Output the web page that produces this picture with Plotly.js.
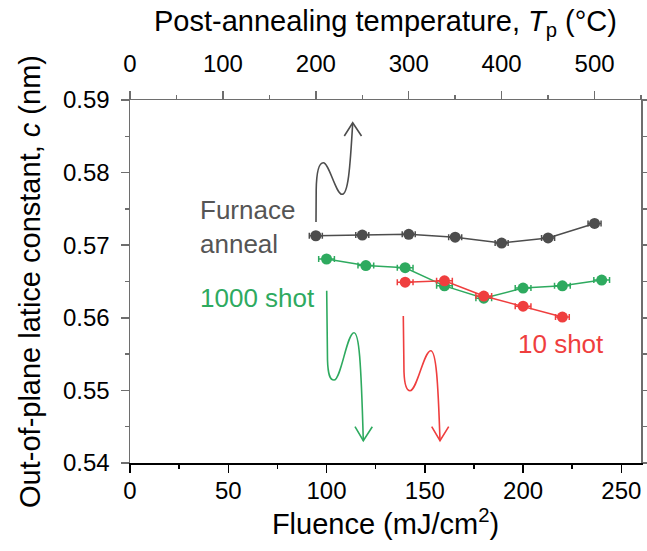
<!DOCTYPE html>
<html>
<head>
<meta charset="utf-8">
<script src="https://cdn.plot.ly/plotly-3.0.1.min.js"></script>
<style>html,body{margin:0;padding:0;background:#fff;}#chart{width:647px;height:551px;}</style>
</head>
<body>
<div id="chart"></div>
<script>
// ---- data ----
const furnaceTemp = [200, 250, 300, 350, 400, 450, 500];
const furnaceC    = [0.5713, 0.5714, 0.5715, 0.5711, 0.5703, 0.5710, 0.5730];
const furnaceErr  = [7, 7, 7, 7, 7, 7, 7];

const shot1000Fluence = [100, 120, 140, 160, 180, 200, 220, 240];
const shot1000C       = [0.5681, 0.5672, 0.5669, 0.5644, 0.5627, 0.5641, 0.5644, 0.5652];
const shot1000Err     = [4, 4, 4, 4, 4, 4, 4, 4];

const shot10Fluence = [140, 160, 180, 200, 220];
const shot10C       = [0.5649, 0.5651, 0.5630, 0.5616, 0.5601];
const shot10Err     = [4, 4, 4, 4, 3.5];

const xTickVals = [0, 50, 100, 150, 200, 250];
const x2TickVals = [0, 100, 200, 300, 400, 500];
const yTickVals = [0.54, 0.55, 0.56, 0.57, 0.58, 0.59];

// ---- style ----
const GREY = '#4d4d4d', GREEN = '#2eaa5f', RED = '#ef3e3e', AX = '#6e6e6e';
const FONT = 'Liberation Sans, Arial, sans-serif';

// plot-area geometry (for decorative arrows only)
const L = 130, R = 6, T = 100, B = 88, W = 647, H = 551;
const pw = W - L - R, ph = H - T - B;
const XR = [0, 260], YR = [0.54, 0.59];
function dx(px){ return XR[0] + (px - L) / pw * (XR[1] - XR[0]); }
function dy(py){ return YR[1] - (py - T) / ph * (YR[1] - YR[0]); }
function pathOf(segs){
  return segs.map(s => {
    const c = s[0], n = s.slice(1), out = [];
    for (let i = 0; i < n.length; i += 2) out.push(dx(n[i]).toFixed(3) + ',' + dy(n[i+1]).toFixed(5));
    return c + out.join(' ');
  }).join(' ');
}
function squiggle(segs, color){
  return {type:'path', xref:'x', yref:'y', path: pathOf(segs), line:{color:color, width:1.6}};
}

const traces = [
  {x: furnaceTemp, y: furnaceC, xaxis:'x2', yaxis:'y', type:'scatter', mode:'lines+markers',
   line:{color:GREY, width:1.5}, marker:{color:GREY, size:11},
   error_x:{type:'data', array:furnaceErr, visible:true, color:GREY, thickness:1.5, width:3}},
  {x: shot1000Fluence, y: shot1000C, xaxis:'x', yaxis:'y', type:'scatter', mode:'lines+markers',
   line:{color:GREEN, width:1.5}, marker:{color:GREEN, size:11},
   error_x:{type:'data', array:shot1000Err, visible:true, color:GREEN, thickness:1.5, width:3}},
  {x: shot10Fluence, y: shot10C, xaxis:'x', yaxis:'y', type:'scatter', mode:'lines+markers',
   line:{color:RED, width:1.5}, marker:{color:RED, size:11},
   error_x:{type:'data', array:shot10Err, visible:true, color:RED, thickness:1.5, width:3}}
];

const shapes = [
  squiggle([['M',316,222],['L',316.2,190],['C',316.5,172,319,162.7,323.3,162.7],['C',329,162.7,336,194.3,342,194.3],['C',348,194.3,350,170,352.7,123]], GREY),
  squiggle([['M',344.3,136],['L',352.7,122.7],['L',361.5,136]], GREY),
  squiggle([['M',326.7,290.7],['L',327.5,360],['C',328,375,330,380,334,380],['C',341,380,347,332.7,354,332.7],['C',359,332.7,361,360,363.3,440.7]], GREEN),
  squiggle([['M',355,426.7],['L',363.3,440.7],['L',372.3,426.7]], GREEN),
  squiggle([['M',403.3,316],['L',404,372],['C',404.5,385,406.5,390.7,410,390.7],['C',417,390.7,424,350.7,430.7,350.7],['C',436,350.7,438,380,440,440.7]], RED),
  squiggle([['M',431.7,426.7],['L',440,440.7],['L',448.7,426.7]], RED)
];

const annotations = [
  {x: dx(198), y: dy(227), xref:'x', yref:'y', xanchor:'left', yanchor:'middle', align:'left', showarrow:false,
   text:'Furnace<br>anneal', font:{family:FONT, size:26, color:'#555555'}},
  {x: dx(198), y: dy(298), xref:'x', yref:'y', xanchor:'left', yanchor:'middle', showarrow:false,
   text:'1000 shot', font:{family:FONT, size:26, color:GREEN}},
  {x: dx(516), y: dy(344), xref:'x', yref:'y', xanchor:'left', yanchor:'middle', showarrow:false,
   text:'10 shot', font:{family:FONT, size:26, color:RED}}
];

const common = {showgrid:false, zeroline:false, showline:true, linewidth:1.5, ticks:'outside',
  ticklen:8, tickwidth:1.5, tickfont:{family:FONT, size:24, color:'#000'}};

const layout = {
  width: W, height: H,
  margin:{l:L, r:R, t:T, b:B, pad:0},
  paper_bgcolor:'#fff', plot_bgcolor:'#fff',
  showlegend:false,
  font:{family:FONT, color:'#000'},
  xaxis: Object.assign({}, common, {
    range: XR, tickvals: xTickVals, linecolor:'#000', tickcolor:'#000',
    minor:{dtick:25, ticks:'outside', ticklen:4, tickwidth:1.5, tickcolor:'#000'},
    ticklabelstandoff: -2,
    title:{text:'Fluence (mJ/cm<sup>2</sup>)', font:{family:FONT, size:29, color:'#000'}, standoff:8},
    anchor:'y'
  }),
  xaxis2: Object.assign({}, common, {
    range:[0, 550], tickvals: x2TickVals, overlaying:'x', side:'top', anchor:'y',
    linecolor:AX, tickcolor:AX,
    minor:{dtick:50, ticks:'outside', ticklen:4, tickwidth:1.5, tickcolor:AX},
    ticklabelstandoff: 9,
    title:{text:'Post-annealing temperature, <i>T</i><sub>p</sub> (°C)', font:{family:FONT, size:29, color:'#000'}, standoff:10}
  }),
  yaxis: Object.assign({}, common, {
    range: YR, tickvals: yTickVals, tickformat:'.2f', linecolor:AX, tickcolor:AX, mirror:'ticks',
    minor:{dtick:0.005, ticks:'outside', ticklen:4, tickwidth:1.5, tickcolor:AX},
    ticklabelstandoff: 6,
    title:{text:'Out-of-plane latice constant, <i>c</i> (nm)', font:{family:FONT, size:29, color:'#000'}, standoff:14}
  }),
  shapes: shapes,
  annotations: annotations
};

Plotly.newPlot('chart', traces, layout, {displayModeBar:false, staticPlot:true});
</script>
</body>
</html>
